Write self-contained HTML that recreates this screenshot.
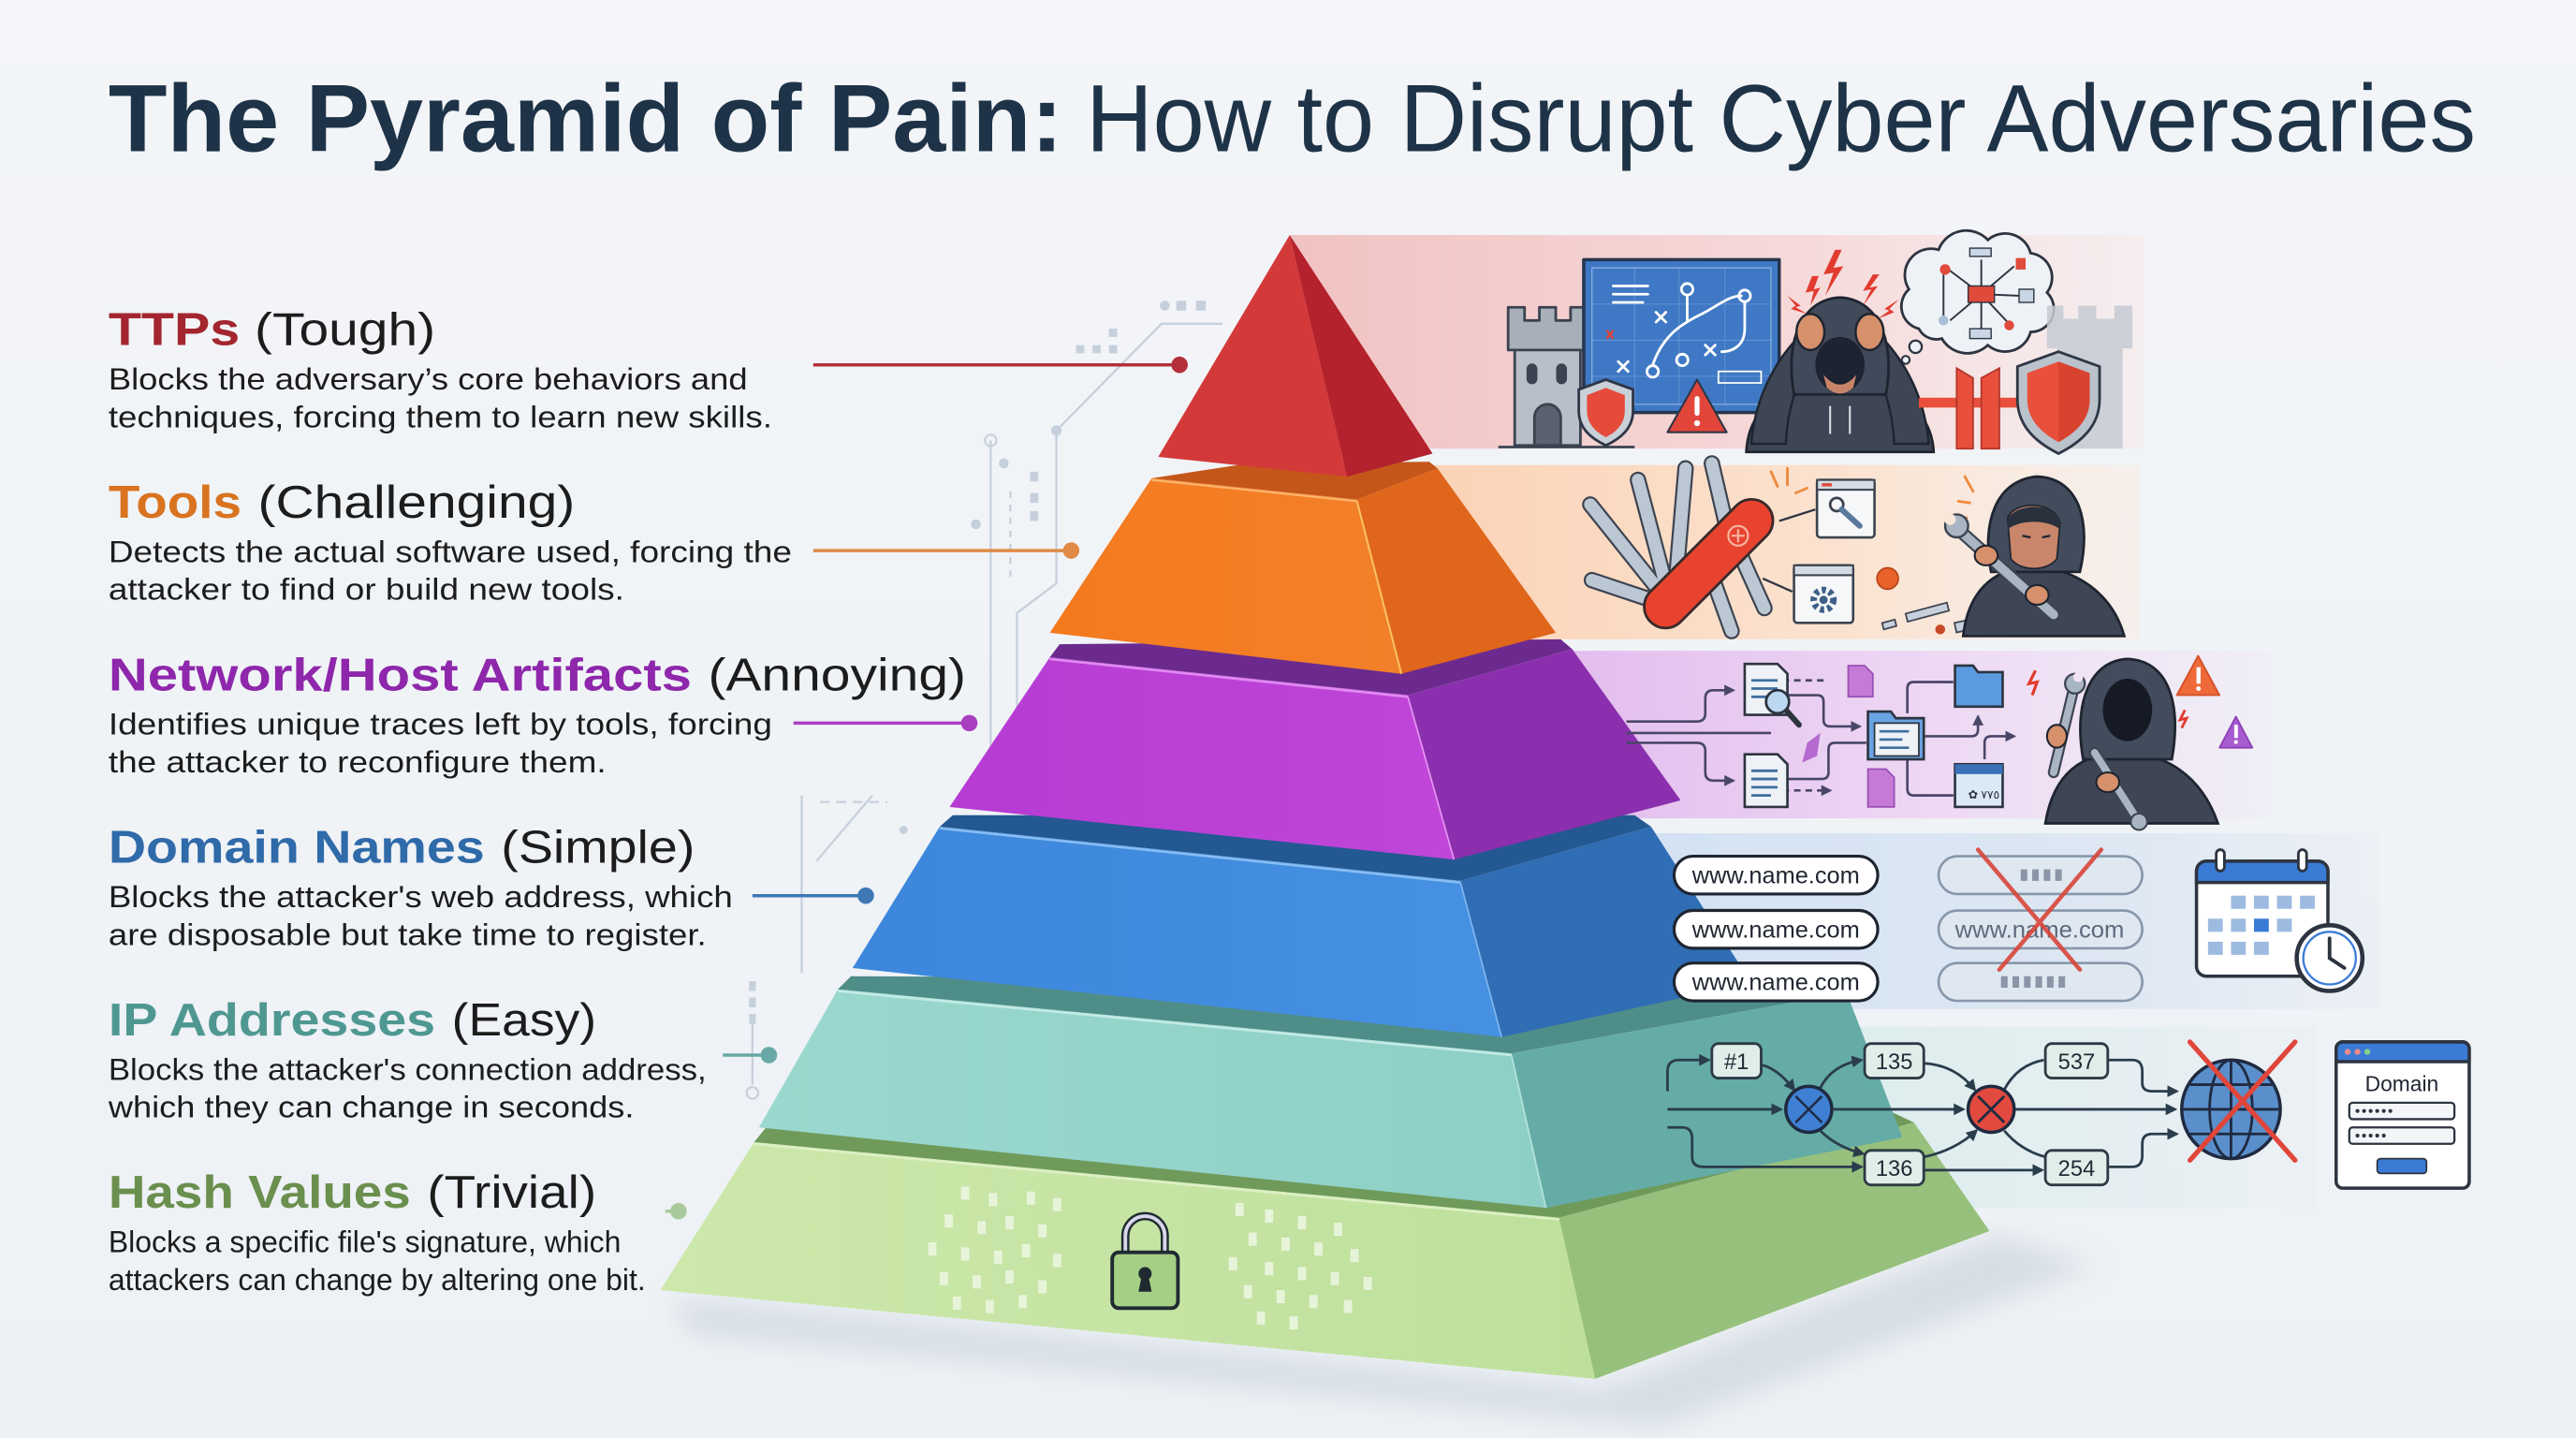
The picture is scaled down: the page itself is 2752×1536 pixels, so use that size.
<!DOCTYPE html>
<html><head><meta charset="utf-8"><title>The Pyramid of Pain</title>
<style>
html,body{margin:0;padding:0;background:#f2f4f7;}
svg{display:block;}
text{font-family:"Liberation Sans",Arial,sans-serif;}
</style></head>
<body>
<svg xmlns="http://www.w3.org/2000/svg" width="2752" height="1536" viewBox="0 0 1568 875" preserveAspectRatio="none">
<defs>
<linearGradient id="bg" x1="0" y1="0" x2="0" y2="1"><stop offset="0" stop-color="#f3f5f8"/><stop offset="1" stop-color="#edf1f5"/></linearGradient>
<linearGradient id="pRed" x1="0" y1="0" x2="1" y2="0"><stop offset="0" stop-color="#f1c2c2"/><stop offset="0.6" stop-color="#f6d9d9"/><stop offset="1" stop-color="#f8e6e6" stop-opacity="0.5"/></linearGradient>
<linearGradient id="pOr" x1="0" y1="0" x2="1" y2="0"><stop offset="0" stop-color="#fbd3b6"/><stop offset="0.6" stop-color="#fbe3d1"/><stop offset="1" stop-color="#fbebe0" stop-opacity="0.5"/></linearGradient>
<linearGradient id="pPu" x1="0" y1="0" x2="1" y2="0"><stop offset="0" stop-color="#e3bdee"/><stop offset="0.55" stop-color="#eed9f4"/><stop offset="1" stop-color="#f1e6f5" stop-opacity="0.4"/></linearGradient>
<linearGradient id="pBl" x1="0" y1="0" x2="1" y2="0"><stop offset="0" stop-color="#d3e2f3"/><stop offset="0.7" stop-color="#dfe8f3"/><stop offset="1" stop-color="#e7edf4" stop-opacity="0.5"/></linearGradient>
<linearGradient id="pIp" x1="0" y1="0" x2="1" y2="0"><stop offset="0" stop-color="#d8ecea"/><stop offset="0.7" stop-color="#e4eef1"/><stop offset="1" stop-color="#e9eff3" stop-opacity="0.5"/></linearGradient>
<linearGradient id="gGreen" x1="0" y1="0" x2="1" y2="0"><stop offset="0" stop-color="#cce8ab"/><stop offset="1" stop-color="#bfe09c"/></linearGradient>
<linearGradient id="gTeal" x1="0" y1="0" x2="1" y2="0"><stop offset="0" stop-color="#9bd8cf"/><stop offset="1" stop-color="#8dcfc6"/></linearGradient>
<linearGradient id="gBlue" x1="0" y1="0" x2="1" y2="0"><stop offset="0" stop-color="#3c86dc"/><stop offset="1" stop-color="#4691e2"/></linearGradient>
<linearGradient id="gPur" x1="0" y1="0" x2="1" y2="0"><stop offset="0" stop-color="#b53bd3"/><stop offset="1" stop-color="#c046d9"/></linearGradient>
<linearGradient id="gOr" x1="0" y1="0" x2="1" y2="0"><stop offset="0" stop-color="#f57a1e"/><stop offset="1" stop-color="#f2802a"/></linearGradient>
<filter id="blur" x="-20%" y="-50%" width="140%" height="200%"><feGaussianBlur stdDeviation="8"/></filter>
<marker id="ah" viewBox="0 0 10 10" refX="8" refY="5" markerWidth="4.5" markerHeight="4.5" orient="auto"><path d="M0 0 L10 5 L0 10 Z" fill="#2a3d4c"/></marker>
<marker id="ahp" viewBox="0 0 10 10" refX="8" refY="5" markerWidth="4.5" markerHeight="4.5" orient="auto"><path d="M0 0 L10 5 L0 10 Z" fill="#4a4668"/></marker>
</defs>

<rect x="0" y="0" width="1568" height="875" fill="url(#bg)"/>

<!-- Title -->
<text x="66" y="92" font-size="58" font-weight="700" fill="#1e3347" textLength="581" lengthAdjust="spacingAndGlyphs">The Pyramid of Pain:</text>
<text x="661" y="92" font-size="58" font-weight="400" fill="#1e3347" textLength="846" lengthAdjust="spacingAndGlyphs">How to Disrupt Cyber Adversaries</text>

<!-- faint circuit decorations -->
<g stroke="#c6d0dc" stroke-width="1.3" fill="none">
<path d="M744 197 H707 L643 262 V355 L619 373 V462 L600 482"/>
<path d="M603 268 V487"/>
<path d="M615 299 V355" stroke-dasharray="4 4"/>
<path d="M488 484 V592"/>
<path d="M497 524 L531 484"/>
<path d="M499 488 H540" stroke-dasharray="6 4"/>
<path d="M458 621 V660"/>
<path d="M863 174 V205 H826"/>
<path d="M910 170 L880 207 H840"/>
<path d="M907 218 H884 L870 230 V240 H893"/>
</g>
<g fill="#c6d0dc">
<circle cx="643" cy="262" r="3.2"/>
<circle cx="709" cy="186" r="3"/><rect x="716" y="183" width="6" height="6"/><rect x="728" y="183" width="6" height="6"/>
<rect x="655" y="210" width="5" height="5"/><rect x="665" y="210" width="5" height="5"/><rect x="675" y="210" width="5" height="5"/><rect x="675" y="200" width="5" height="5"/>
<circle cx="611" cy="282" r="3"/><circle cx="594" cy="319" r="3"/>
<rect x="627" y="287" width="5" height="6"/><rect x="627" y="300" width="5" height="6"/><rect x="627" y="311" width="5" height="6"/>
<circle cx="550" cy="505" r="2.5"/>
<rect x="456" y="597" width="4" height="6"/><rect x="456" y="607" width="4" height="6"/><rect x="456" y="617" width="4" height="6"/>
<circle cx="863" cy="174" r="3"/><circle cx="910" cy="170" r="3"/><circle cx="907" cy="218" r="3"/><circle cx="893" cy="240" r="3"/>
</g>
<circle cx="603" cy="268" r="3.5" fill="none" stroke="#c6d0dc" stroke-width="1.2"/>
<circle cx="458" cy="665" r="3.5" fill="none" stroke="#c6d0dc" stroke-width="1.2"/>

<!-- Labels -->
<g fill="#1c1c1c">
<text x="66" y="210" font-size="28" font-weight="700" fill="#a3262f" textLength="80" lengthAdjust="spacingAndGlyphs">TTPs</text>
<text x="155" y="210" font-size="28" textLength="110" lengthAdjust="spacingAndGlyphs">(Tough)</text>
<text x="66" y="237" font-size="18.5" textLength="389" lengthAdjust="spacingAndGlyphs">Blocks the adversary’s core behaviors and</text>
<text x="66" y="260" font-size="18.5" textLength="404" lengthAdjust="spacingAndGlyphs">techniques, forcing them to learn new skills.</text>

<text x="66" y="315" font-size="28" font-weight="700" fill="#d9731f" textLength="81" lengthAdjust="spacingAndGlyphs">Tools</text>
<text x="157" y="315" font-size="28" textLength="193" lengthAdjust="spacingAndGlyphs">(Challenging)</text>
<text x="66" y="342" font-size="18.5" textLength="416" lengthAdjust="spacingAndGlyphs">Detects the actual software used, forcing the</text>
<text x="66" y="365" font-size="18.5" textLength="314" lengthAdjust="spacingAndGlyphs">attacker to find or build new tools.</text>

<text x="66" y="420" font-size="28" font-weight="700" fill="#8e27ab" textLength="355" lengthAdjust="spacingAndGlyphs">Network/Host Artifacts</text>
<text x="431" y="420" font-size="28" textLength="157" lengthAdjust="spacingAndGlyphs">(Annoying)</text>
<text x="66" y="447" font-size="18.5" textLength="404" lengthAdjust="spacingAndGlyphs">Identifies unique traces left by tools, forcing</text>
<text x="66" y="470" font-size="18.5" textLength="303" lengthAdjust="spacingAndGlyphs">the attacker to reconfigure them.</text>

<text x="66" y="525" font-size="28" font-weight="700" fill="#2f6aa9" textLength="229" lengthAdjust="spacingAndGlyphs">Domain Names</text>
<text x="305" y="525" font-size="28" textLength="118" lengthAdjust="spacingAndGlyphs">(Simple)</text>
<text x="66" y="552" font-size="18.5" textLength="380" lengthAdjust="spacingAndGlyphs">Blocks the attacker's web address, which</text>
<text x="66" y="575" font-size="18.5" textLength="364" lengthAdjust="spacingAndGlyphs">are disposable but take time to register.</text>

<text x="66" y="630" font-size="28" font-weight="700" fill="#4f9892" textLength="199" lengthAdjust="spacingAndGlyphs">IP Addresses</text>
<text x="275" y="630" font-size="28" textLength="88" lengthAdjust="spacingAndGlyphs">(Easy)</text>
<text x="66" y="657" font-size="18.5" textLength="364" lengthAdjust="spacingAndGlyphs">Blocks the attacker's connection address,</text>
<text x="66" y="680" font-size="18.5" textLength="320" lengthAdjust="spacingAndGlyphs">which they can change in seconds.</text>

<text x="66" y="735" font-size="28" font-weight="700" fill="#6b8f4e" textLength="184" lengthAdjust="spacingAndGlyphs">Hash Values</text>
<text x="260" y="735" font-size="28" textLength="103" lengthAdjust="spacingAndGlyphs">(Trivial)</text>
<text x="66" y="762" font-size="18.5" textLength="312" lengthAdjust="spacingAndGlyphs">Blocks a specific file's signature, which</text>
<text x="66" y="785" font-size="18.5" textLength="327" lengthAdjust="spacingAndGlyphs">attackers can change by altering one bit.</text>
</g>

<!-- connectors -->
<g stroke-width="2">
<line x1="495" y1="222" x2="716" y2="222" stroke="#b3303a"/><circle cx="718" cy="222" r="5" fill="#b3303a"/>
<line x1="495" y1="335" x2="650" y2="335" stroke="#e08a45"/><circle cx="652" cy="335" r="5" fill="#e08a45"/>
<line x1="483" y1="440" x2="588" y2="440" stroke="#a940c0"/><circle cx="590" cy="440" r="5" fill="#a940c0"/>
<line x1="458" y1="545" x2="525" y2="545" stroke="#3d78b5"/><circle cx="527" cy="545" r="5" fill="#3d78b5"/>
<line x1="440" y1="642" x2="466" y2="642" stroke="#69a8a6"/><circle cx="468" cy="642" r="5" fill="#69a8a6"/>
<line x1="405" y1="737" x2="411" y2="737" stroke="#a9c99a"/><circle cx="413" cy="737" r="5" fill="#a9c99a"/>
</g>

<!-- Right panels (behind pyramid) -->
<rect x="785" y="143" width="520" height="130" fill="url(#pRed)"/>
<rect x="870" y="283" width="432" height="106" fill="url(#pOr)"/>
<rect x="950" y="396" width="432" height="102" fill="url(#pPu)"/>
<rect x="1000" y="507" width="448" height="107" fill="url(#pBl)"/>
<rect x="1000" y="625" width="410" height="110" fill="url(#pIp)"/>

<!-- pyramid shadow -->
<polygon points="410,790 975,845 1215,752 1275,770 1010,868 420,812" fill="#cdd5df" opacity="0.7" filter="url(#blur)"/>

<!-- Green tier -->
<polygon points="459,695 468,684 1150,676 1165,683 949,741" fill="#6f9a5a"/>
<polygon points="459,695 949,741 971,839 402,785" fill="url(#gGreen)"/>
<polygon points="949,741 1165,683 1211,749 971,839" fill="#97c07c"/>
<line x1="459" y1="696" x2="949" y2="742" stroke="#dcf0c4" stroke-width="1.5"/>
<!-- Teal tier -->
<polygon points="510,602 518,594 1110,597 1124,604 920,641" fill="#4f8d88"/>
<polygon points="510,602 920,641 941,735 462,686" fill="url(#gTeal)"/>
<polygon points="920,641 1124,604 1158,692 941,735" fill="#64aca5"/>
<line x1="510" y1="603" x2="920" y2="642" stroke="#c2ebe4" stroke-width="1.5"/>
<line x1="920" y1="642" x2="941" y2="735" stroke="#b4e3dc" stroke-width="1"/>
<!-- Blue tier -->
<polygon points="572,503 580,496 995,496 1005,503 889,536" fill="#245892"/>
<polygon points="572,503 889,536 914,631 519,589" fill="url(#gBlue)"/>
<polygon points="889,536 1005,503 1066,598 914,631" fill="#2f6db5"/>
<line x1="572" y1="504" x2="889" y2="537" stroke="#86bdf2" stroke-width="1.5"/>
<line x1="889" y1="537" x2="914" y2="631" stroke="#7fb5ec" stroke-width="1"/>
<!-- Purple tier -->
<polygon points="639,400 645,392 950,389 957,395 857,423" fill="#6c2a8e"/>
<polygon points="639,400 857,423 885,523 578,491" fill="url(#gPur)"/>
<polygon points="857,423 957,395 1023,487 885,523" fill="#8b2fae"/>
<line x1="639" y1="401" x2="857" y2="424" stroke="#e08af2" stroke-width="1.5"/>
<line x1="857" y1="424" x2="885" y2="523" stroke="#e493f2" stroke-width="1"/>
<!-- Orange tier -->
<polygon points="701,291 760,282 870,281 875,285 826,304" fill="#c4561a"/>
<polygon points="701,291 826,304 853,410 639,385" fill="url(#gOr)"/>
<polygon points="826,304 875,285 947,385 853,410" fill="#e0661b"/>
<line x1="701" y1="292" x2="826" y2="305" stroke="#fbb46a" stroke-width="1.3"/>
<line x1="826" y1="305" x2="853" y2="410" stroke="#f9c060" stroke-width="1.2"/>
<!-- Red tier -->
<polygon points="785,143 705,278 820,290" fill="#d4393a"/>
<polygon points="785,143 820,290 872,276" fill="#b3222d"/>

<!-- Hash tier decorations -->
<g fill="#eef7e4" opacity="0.85">
<rect x="585" y="722" width="5" height="8"/><rect x="602" y="726" width="5" height="8"/><rect x="625" y="725" width="5" height="8"/><rect x="641" y="729" width="5" height="8"/>
<rect x="575" y="739" width="5" height="8"/><rect x="595" y="743" width="5" height="8"/><rect x="612" y="740" width="5" height="8"/><rect x="632" y="745" width="5" height="8"/>
<rect x="565" y="756" width="5" height="8"/><rect x="585" y="759" width="5" height="8"/><rect x="605" y="761" width="5" height="8"/><rect x="622" y="757" width="5" height="8"/><rect x="641" y="763" width="5" height="8"/>
<rect x="572" y="774" width="5" height="8"/><rect x="592" y="776" width="5" height="8"/><rect x="612" y="773" width="5" height="8"/><rect x="632" y="779" width="5" height="8"/>
<rect x="580" y="789" width="5" height="8"/><rect x="600" y="791" width="5" height="8"/><rect x="620" y="788" width="5" height="8"/>
<rect x="752" y="732" width="5" height="8"/><rect x="770" y="736" width="5" height="8"/><rect x="790" y="740" width="5" height="8"/><rect x="812" y="744" width="5" height="8"/>
<rect x="760" y="750" width="5" height="8"/><rect x="780" y="753" width="5" height="8"/><rect x="800" y="756" width="5" height="8"/><rect x="822" y="760" width="5" height="8"/>
<rect x="748" y="765" width="5" height="8"/><rect x="770" y="768" width="5" height="8"/><rect x="790" y="771" width="5" height="8"/><rect x="810" y="774" width="5" height="8"/><rect x="830" y="777" width="5" height="8"/>
<rect x="757" y="782" width="5" height="8"/><rect x="777" y="785" width="5" height="8"/><rect x="797" y="788" width="5" height="8"/><rect x="818" y="791" width="5" height="8"/>
<rect x="765" y="798" width="5" height="8"/><rect x="785" y="801" width="5" height="8"/>
</g>
<!-- padlock -->
<path d="M685 764 V752 a12 12 0 0 1 24 0 V764" fill="none" stroke="#1f2a30" stroke-width="5"/>
<path d="M685 764 V752 a12 12 0 0 1 24 0 V764" fill="none" stroke="#d8d6ea" stroke-width="2.2"/>
<rect x="677" y="762" width="40" height="34" rx="4" fill="#a6cf86" stroke="#1f2a30" stroke-width="2.2"/>
<circle cx="697" cy="775" r="4" fill="#1f2a30"/><path d="M695 776 L693 786 H701 L699 776 Z" fill="#1f2a30"/>

<!-- ===== TTP icons ===== -->
<g stroke="#3b4250" stroke-width="1.6" stroke-linejoin="round">
<path d="M918 213 V187 H928 V195 H937 V187 H947 V195 H956 V187 H966 V213 Z" fill="#a7afb9"/>
<rect x="922" y="213" width="40" height="58" fill="#b8bfc8"/>
<rect x="930" y="222" width="5" height="11" rx="2.5" fill="#3b4250"/>
<rect x="948" y="222" width="5" height="11" rx="2.5" fill="#3b4250"/>
<path d="M934 271 V254 a8 8 0 0 1 16 0 V271 Z" fill="#5a6270"/>
<line x1="912" y1="272" x2="995" y2="272"/>
<rect x="964" y="158" width="119" height="93" fill="#3f78c4" stroke="#26364f" stroke-width="2"/>
<rect x="969" y="163" width="109" height="83" fill="none" stroke="#9ec0ea" stroke-width="0.8" opacity="0.7"/>
</g>
<g stroke="#8fb2e2" stroke-width="0.5" opacity="0.5">
<line x1="969" y1="185" x2="1078" y2="185"/><line x1="969" y1="207" x2="1078" y2="207"/><line x1="969" y1="229" x2="1078" y2="229"/>
<line x1="995" y1="163" x2="995" y2="246"/><line x1="1022" y1="163" x2="1022" y2="246"/><line x1="1050" y1="163" x2="1050" y2="246"/>
</g>
<g stroke="#ffffff" stroke-width="1.6" fill="none" stroke-linecap="round">
<line x1="982" y1="174" x2="1003" y2="174"/><line x1="982" y1="179" x2="1003" y2="179"/><line x1="982" y1="184" x2="1000" y2="184"/>
<circle cx="1027" cy="176" r="3.5"/><circle cx="1062" cy="180" r="3.5"/><circle cx="1024" cy="219" r="3.5"/><circle cx="1006" cy="226" r="3.5"/>
<path d="M1008 190 l6 6 M1014 190 l-6 6"/><path d="M1038 210 l6 6 M1044 210 l-6 6"/><path d="M985 220 l6 6 M991 220 l-6 6"/>
<path d="M1006 222 C1012 205 1022 198 1034 192 C1046 186 1052 180 1060 180"/>
<path d="M1027 180 V195"/><path d="M1062 184 V200 C1062 210 1055 214 1048 214"/>
<rect x="1046" y="226" width="26" height="7" stroke-width="1"/>
</g>
<path d="M978 201 l4 5 M982 201 l-4 5" stroke="#e2453a" stroke-width="1.4"/>
<path d="M977.5 231 L994 237 V250 C994 261 986 267 977.5 271 C969 267 961 261 961 250 V237 Z" fill="#c9d0d8" stroke="#2f3645" stroke-width="1.6"/>
<path d="M977.5 236 L989 240.5 V250 C989 258 983.5 263 977.5 266 C971.5 263 966 258 966 250 V240.5 Z" fill="#e64a3a"/>
<path d="M1033 231 L1051 263 H1015 Z" fill="#e2453a" stroke="#2f3645" stroke-width="1.2" stroke-linejoin="round"/>
<rect x="1031.5" y="241" width="3" height="12" rx="1.5" fill="#fff"/><circle cx="1033" cy="257.5" r="1.8" fill="#fff"/>
<!-- hacker holding head -->
<path d="M1063 275 C1064 255 1075 243 1092 238 L1146 238 C1163 243 1176 255 1177 275 Z" fill="#3e4656" stroke="#1f2530" stroke-width="1.6"/>
<path d="M1066 270 C1068 245 1078 224 1092 208 L1105 214 C1094 230 1088 248 1087 270 Z" fill="#3e4656" stroke="#1f2530" stroke-width="1.4"/>
<path d="M1174 270 C1172 245 1162 224 1148 208 L1135 214 C1146 230 1152 248 1153 270 Z" fill="#3e4656" stroke="#1f2530" stroke-width="1.4"/>
<path d="M1092 240 C1086 205 1098 182 1120 181 C1142 182 1154 205 1148 240 Z" fill="#414a5a" stroke="#1f2530" stroke-width="1.6"/>
<ellipse cx="1120" cy="222" rx="15" ry="17" fill="#1d2330"/>
<path d="M1110 228 Q1120 240 1130 228 L1128 236 Q1120 243 1112 236 Z" fill="#c88468"/>
<ellipse cx="1102" cy="202" rx="8.5" ry="11" fill="#d6906b" stroke="#1f2530" stroke-width="1.4"/>
<ellipse cx="1138" cy="202" rx="8.5" ry="11" fill="#d6906b" stroke="#1f2530" stroke-width="1.4"/>
<line x1="1114" y1="247" x2="1114" y2="264" stroke="#d8dce2" stroke-width="1.2"/><line x1="1126" y1="247" x2="1126" y2="264" stroke="#d8dce2" stroke-width="1.2"/>
<g fill="#e23b2f">
<path d="M1117 152 L1110 167 L1116 166 L1111 180 L1122 162 L1116 163 L1121 152 Z"/>
<path d="M1103 168 L1099 178 L1104 177 L1102 186 L1108 175 L1104 176 L1107 168 Z"/>
<path d="M1140 167 L1134 177 L1139 176 L1134 186 L1143 174 L1138 175 L1144 167 Z"/>
<path d="M1088 180 L1096 186 L1093 187 L1100 191 L1090 188 L1093 186 Z"/>
<path d="M1156 182 L1147 188 L1150 189 L1143 194 L1153 190 L1150 188 Z"/>
</g>
<path d="M1168 200 a14 14 0 0 1 -6 -24 a16 16 0 0 1 18 -24 a18 18 0 0 1 30 -6 a16 16 0 0 1 26 8 a15 15 0 0 1 10 24 a14 14 0 0 1 -10 24 a16 16 0 0 1 -26 8 a18 18 0 0 1 -28 -4 a12 12 0 0 1 -14 -6 Z" fill="#eef2f7" stroke="#2d3440" stroke-width="1.6"/>
<circle cx="1166" cy="211" r="3.8" fill="#eef2f7" stroke="#2d3440" stroke-width="1.3"/>
<circle cx="1160" cy="219" r="2.4" fill="#eef2f7" stroke="#2d3440" stroke-width="1.2"/>
<g stroke="#2d3440" stroke-width="1.1">
<line x1="1206" y1="179" x2="1206" y2="158"/><line x1="1206" y1="179" x2="1186" y2="164"/><line x1="1206" y1="179" x2="1226" y2="162"/>
<line x1="1206" y1="179" x2="1230" y2="180"/><line x1="1206" y1="179" x2="1222" y2="196"/><line x1="1206" y1="179" x2="1206" y2="200"/><line x1="1206" y1="179" x2="1187" y2="195"/>
<line x1="1183" y1="167" x2="1183" y2="192"/>
</g>
<rect x="1198" y="174" width="16" height="10" fill="#e04a3a" stroke="#2d3440" stroke-width="0.8"/>
<circle cx="1184" cy="164" r="3.2" fill="#e04a3a"/>
<rect x="1199" y="151" width="13" height="5" fill="#c9d6e6" stroke="#2d3440" stroke-width="0.8"/>
<rect x="1227" y="157" width="6" height="7" fill="#e04a3a"/>
<rect x="1229" y="176" width="9" height="8" fill="#c9d6e6" stroke="#2d3440" stroke-width="0.8"/>
<circle cx="1223" cy="198" r="3" fill="#e04a3a"/>
<rect x="1199" y="200" width="13" height="6" fill="#c9d6e6" stroke="#2d3440" stroke-width="0.8"/>
<circle cx="1183" cy="195" r="3" fill="#a8bfd8"/>
<rect x="1168" y="242" width="64" height="6" fill="#e8503c"/>
<path d="M1191 224 L1201 230 V273 H1191 Z" fill="#e8503c" stroke="#b2352a" stroke-width="1"/>
<path d="M1206 230 L1217 224 V273 H1206 Z" fill="#e8503c" stroke="#b2352a" stroke-width="1"/>
<g fill="#c5cbd3" opacity="0.85">
<path d="M1246 212 V186 H1256 V194 H1265 V186 H1276 V194 H1287 V186 H1298 V212 Z"/>
<rect x="1252" y="212" width="40" height="61"/>
</g>
<path d="M1253 214 L1278 223 V243 C1278 259 1267 269 1253 276 C1239 269 1228 259 1228 243 V223 Z" fill="#bac2cc" stroke="#2f3645" stroke-width="1.6"/>
<path d="M1253 220 L1272 227 V243 C1272 255 1264 263 1253 269 C1242 263 1234 255 1234 243 V227 Z" fill="#e8503c"/>
<path d="M1253 220 L1272 227 V243 C1272 255 1264 263 1253 269 Z" fill="#d8432f"/>

<!-- ===== Tools icons ===== -->
<g stroke-linecap="round">
<g stroke="#3d4450" stroke-width="10">
<line x1="1012" y1="362" x2="968" y2="307"/><line x1="1015" y1="360" x2="997" y2="292"/><line x1="1020" y1="355" x2="1026" y2="285"/>
<line x1="1052" y1="325" x2="1042" y2="282"/><line x1="1008" y1="366" x2="969" y2="353"/><line x1="1056" y1="330" x2="1074" y2="370"/><line x1="1040" y1="345" x2="1054" y2="384"/>
</g>
<g stroke="#bcc7d4" stroke-width="7.5">
<line x1="1012" y1="362" x2="968" y2="307"/><line x1="1015" y1="360" x2="997" y2="292"/><line x1="1020" y1="355" x2="1026" y2="285"/>
<line x1="1052" y1="325" x2="1042" y2="282"/><line x1="1008" y1="366" x2="969" y2="353"/><line x1="1056" y1="330" x2="1074" y2="370"/><line x1="1040" y1="345" x2="1054" y2="384"/>
</g>
</g>
<rect x="990" y="330" width="100" height="26" rx="13" transform="rotate(-45 1040 343)" fill="#e8432f" stroke="#3a2a2a" stroke-width="1.6"/>
<circle cx="1058" cy="326" r="6" fill="none" stroke="#f7b19e" stroke-width="1.3"/>
<path d="M1058 322 V330 M1054 326 H1062" stroke="#f7b19e" stroke-width="1.3"/>
<g stroke="#2f3645" stroke-width="1.3">
<line x1="1083" y1="317" x2="1105" y2="310"/><line x1="1073" y1="352" x2="1091" y2="360"/>
</g>
<rect x="1106" y="292" width="35" height="35" rx="2" fill="#f6f7f9" stroke="#3d4450" stroke-width="1.5"/>
<rect x="1106" y="292" width="35" height="6" fill="#d5dce6" stroke="#3d4450" stroke-width="1.2"/>
<rect x="1109" y="294" width="6" height="2" fill="#e04a3a"/>
<circle cx="1118" cy="307" r="4" fill="none" stroke="#3d4450" stroke-width="1.6"/>
<line x1="1121" y1="310" x2="1132" y2="320" stroke="#5a7a9c" stroke-width="3.5" stroke-linecap="round"/>
<rect x="1092" y="344" width="36" height="35" rx="2" fill="#f6f7f9" stroke="#3d4450" stroke-width="1.5"/>
<rect x="1092" y="344" width="36" height="6" fill="#d5dce6" stroke="#3d4450" stroke-width="1.2"/>
<circle cx="1110" cy="365" r="6" fill="none" stroke="#3d5f88" stroke-width="4" stroke-dasharray="2.5 2"/>
<circle cx="1110" cy="365" r="2.5" fill="#3d5f88"/>
<circle cx="1149" cy="352" r="6.5" fill="#e8622a" stroke="#b8461c" stroke-width="1"/>
<g stroke="#3d4450" stroke-width="1" fill="#c7d1dd">
<rect x="1146" y="378" width="8" height="4" transform="rotate(-15 1150 380)"/>
<rect x="1160" y="370" width="26" height="5" transform="rotate(-15 1173 372)"/>
<rect x="1190" y="376" width="28" height="6" transform="rotate(-12 1204 379)"/>
</g>
<circle cx="1181" cy="383" r="3" fill="#c84a2a"/>
<g stroke="#ee8a3c" stroke-width="1.6" stroke-linecap="round">
<line x1="1078" y1="287" x2="1082" y2="296"/><line x1="1088" y1="285" x2="1088" y2="295"/><line x1="1093" y1="300" x2="1100" y2="297"/>
<line x1="1196" y1="290" x2="1201" y2="299"/><line x1="1192" y1="305" x2="1199" y2="306"/><line x1="1190" y1="316" x2="1197" y2="315"/>
</g>
<path d="M1195 387 C1198 360 1213 346 1236 345 C1264 345 1286 362 1293 387 Z" fill="#3e4656" stroke="#1f2530" stroke-width="1.6"/>
<path d="M1212 348 C1206 318 1215 292 1240 290 C1266 291 1273 318 1266 348 Z" fill="#434c5c" stroke="#1f2530" stroke-width="1.6"/>
<path d="M1222 315 C1226 305 1250 304 1254 318 L1252 340 C1246 348 1230 348 1224 340 Z" fill="#c9866a" stroke="#1f2530" stroke-width="1"/>
<path d="M1222 315 C1230 306 1248 306 1254 316 L1254 322 C1246 316 1230 316 1222 322 Z" fill="#2a303c"/>
<line x1="1231" y1="326" x2="1236" y2="327" stroke="#1f2530" stroke-width="1.3"/><line x1="1243" y1="327" x2="1248" y2="326" stroke="#1f2530" stroke-width="1.3"/>
<line x1="1193" y1="323" x2="1250" y2="374" stroke="#3d4450" stroke-width="8" stroke-linecap="round"/>
<line x1="1193" y1="323" x2="1250" y2="374" stroke="#a9b5c3" stroke-width="5.5" stroke-linecap="round"/>
<circle cx="1191" cy="320" r="7" fill="#a9b5c3" stroke="#3d4450" stroke-width="1.4"/>
<circle cx="1187" cy="316" r="3.5" fill="#f8e6d8"/>
<ellipse cx="1209" cy="338" rx="7" ry="6" fill="#d6906b" stroke="#1f2530" stroke-width="1.2"/>
<ellipse cx="1240" cy="362" rx="7" ry="6" fill="#d6906b" stroke="#1f2530" stroke-width="1.2"/>

<!-- ===== Network/Host icons ===== -->
<g stroke="#4a4668" stroke-width="1.5" fill="none">
<path d="M990 439 H1033 Q1038 439 1038 434 V425 Q1038 420 1043 420 H1055" marker-end="url(#ahp)"/>
<path d="M990 446 H1078"/>
<path d="M990 452 H1033 Q1038 452 1038 457 V470 Q1038 475 1043 475 H1055" marker-end="url(#ahp)"/>
<path d="M1088 423 H1106 Q1110 423 1110 427 V438 Q1110 442 1114 442 H1132" marker-end="url(#ahp)"/>
<path d="M1088 474 H1109 Q1113 474 1113 470 V456 Q1113 452 1117 452 H1136"/>
<path d="M1171 448 H1200 Q1204 448 1204 444 V436" marker-end="url(#ahp)"/>
<path d="M1161 434 V419 Q1161 415 1165 415 H1189"/>
<path d="M1161 462 V480 Q1161 484 1165 484 H1189"/>
<path d="M1208 462 V452 Q1208 448 1212 448 H1226" marker-end="url(#ahp)"/>
<path d="M1078 414 H1110" stroke-dasharray="4 3"/>
<path d="M1078 481 H1114" stroke-dasharray="4 3" marker-end="url(#ahp)"/>
</g>
<path d="M1062 404 H1082 L1088 410 V435 H1062 Z" fill="#eef2f7" stroke="#2d3440" stroke-width="1.5"/>
<g stroke="#3f6fa0" stroke-width="1.6"><line x1="1066" y1="414" x2="1082" y2="414"/><line x1="1066" y1="419" x2="1082" y2="419"/><line x1="1066" y1="424" x2="1076" y2="424"/></g>
<line x1="1087" y1="432" x2="1095" y2="441" stroke="#2d3440" stroke-width="3.5" stroke-linecap="round"/>
<circle cx="1082" cy="427" r="7" fill="#bcd8f0" stroke="#2d3440" stroke-width="1.6"/>
<path d="M1125 405 H1135 L1140 410 V424 H1125 Z" fill="#c57ad8" stroke="#9a4fb5" stroke-width="1"/>
<path d="M1190 409 V430 H1219 V409 H1204 L1201 405 H1190 Z" fill="#5a9be0" stroke="#2d3440" stroke-width="1.5"/>
<path d="M1137 437 V462 H1171 V437 H1154 L1151 433 H1137 Z" fill="#6aa3e2" stroke="#2d3440" stroke-width="1.5"/>
<rect x="1141" y="440" width="27" height="20" fill="#eef2f7" stroke="#2d3440" stroke-width="1"/>
<g stroke="#3f6fa0" stroke-width="1.5"><line x1="1144" y1="445" x2="1162" y2="445"/><line x1="1144" y1="450" x2="1158" y2="450"/><line x1="1144" y1="455" x2="1162" y2="455"/></g>
<path d="M1062 459 H1082 L1088 465 V491 H1062 Z" fill="#eef2f7" stroke="#2d3440" stroke-width="1.5"/>
<g stroke="#3f6fa0" stroke-width="1.6"><line x1="1066" y1="469" x2="1082" y2="469"/><line x1="1066" y1="474" x2="1082" y2="474"/><line x1="1066" y1="479" x2="1082" y2="479"/><line x1="1066" y1="484" x2="1078" y2="484"/></g>
<path d="M1100 452 L1108 446 L1106 460 L1097 464 Z" fill="#b46ad0"/>
<path d="M1137 468 H1148 L1153 473 V491 H1137 Z" fill="#c57ad8" stroke="#9a4fb5" stroke-width="1"/>
<rect x="1190" y="465" width="29" height="26" fill="#dbe8f5" stroke="#2d3440" stroke-width="1.5"/>
<rect x="1190" y="465" width="29" height="6" fill="#3a70b5"/>
<text x="1198" y="486" font-size="7" fill="#2d3440">✿ ٧٧٥</text>
<path d="M1245 501 C1250 470 1268 458 1292 458 C1318 458 1340 472 1350 501 Z" fill="#3e4656" stroke="#1f2530" stroke-width="1.6"/>
<path d="M1268 462 C1262 428 1272 402 1295 401 C1320 402 1328 428 1322 462 Z" fill="#434c5c" stroke="#1f2530" stroke-width="1.6"/>
<ellipse cx="1295" cy="432" rx="15" ry="19" fill="#151a25"/>
<line x1="1250" y1="470" x2="1262" y2="420" stroke="#3d4450" stroke-width="7" stroke-linecap="round"/>
<line x1="1250" y1="470" x2="1262" y2="420" stroke="#a9b5c3" stroke-width="4.5" stroke-linecap="round"/>
<circle cx="1263" cy="416" r="6" fill="#a9b5c3" stroke="#3d4450" stroke-width="1.3"/><circle cx="1265" cy="412" r="3" fill="#f2e4f6"/>
<ellipse cx="1252" cy="448" rx="6" ry="7" fill="#d6906b" stroke="#1f2530" stroke-width="1.2"/>
<line x1="1275" y1="458" x2="1300" y2="497" stroke="#3d4450" stroke-width="7" stroke-linecap="round"/>
<line x1="1275" y1="458" x2="1300" y2="497" stroke="#a9b5c3" stroke-width="4.5" stroke-linecap="round"/>
<circle cx="1302" cy="500" r="5" fill="#a9b5c3" stroke="#3d4450" stroke-width="1.2"/>
<ellipse cx="1283" cy="476" rx="7" ry="6" fill="#d6906b" stroke="#1f2530" stroke-width="1.2"/>
<path d="M1239 408 L1235 416 L1240 415 L1237 423" stroke="#e23b2f" stroke-width="1.8" fill="none"/>
<path d="M1330 432 L1327 438 L1331 437 L1328 443" stroke="#e23b2f" stroke-width="1.6" fill="none"/>
<path d="M1338 399 L1351 423 H1325 Z" fill="#ef6a3a" stroke="#d44f25" stroke-width="1" stroke-linejoin="round"/>
<rect x="1337" y="406" width="2.5" height="10" fill="#fff"/><circle cx="1338.2" cy="419" r="1.4" fill="#fff"/>
<path d="M1361 436 L1371 455 H1351 Z" fill="#a85ad0" stroke="#8a40b5" stroke-width="1" stroke-linejoin="round"/>
<rect x="1360" y="441" width="2.2" height="8" fill="#fff"/><circle cx="1361" cy="451.5" r="1.2" fill="#fff"/>

<!-- ===== Domain icons ===== -->
<g stroke="#1f2530" stroke-width="1.8" fill="#ffffff">
<rect x="1019" y="521" width="124" height="23" rx="11.5"/>
<rect x="1019" y="554" width="124" height="23" rx="11.5"/>
<rect x="1019" y="586" width="124" height="23" rx="11.5"/>
</g>
<g font-size="14" fill="#1f2530">
<text x="1030" y="537.5" textLength="102" lengthAdjust="spacingAndGlyphs">www.name.com</text>
<text x="1030" y="570.5" textLength="102" lengthAdjust="spacingAndGlyphs">www.name.com</text>
<text x="1030" y="602.5" textLength="102" lengthAdjust="spacingAndGlyphs">www.name.com</text>
</g>
<g stroke="#8797ab" stroke-width="1.5" fill="#dfe7f0">
<rect x="1180" y="521" width="124" height="23" rx="11.5"/>
<rect x="1180" y="554" width="124" height="23" rx="11.5"/>
<rect x="1180" y="586" width="124" height="23" rx="11.5"/>
</g>
<g fill="#8a96a8">
<rect x="1230" y="529" width="4" height="7"/><rect x="1237" y="529" width="4" height="7"/><rect x="1244" y="529" width="4" height="7"/><rect x="1251" y="529" width="4" height="7"/>
<rect x="1218" y="594" width="4" height="7"/><rect x="1225" y="594" width="4" height="7"/><rect x="1232" y="594" width="4" height="7"/><rect x="1239" y="594" width="4" height="7"/><rect x="1246" y="594" width="4" height="7"/><rect x="1253" y="594" width="4" height="7"/>
</g>
<text x="1190" y="570.5" font-size="14" fill="#5d6a7c" textLength="103" lengthAdjust="spacingAndGlyphs">www.name.com</text>
<g stroke="#d9463a" stroke-width="2.6" stroke-linecap="round" opacity="0.9">
<line x1="1204" y1="517" x2="1266" y2="590"/><line x1="1279" y1="517" x2="1217" y2="590"/>
</g>
<rect x="1337" y="524" width="80" height="70" rx="6" fill="#ffffff" stroke="#2d3440" stroke-width="2"/>
<path d="M1337 537 V530 a6 6 0 0 1 6 -6 H1411 a6 6 0 0 1 6 6 V537 Z" fill="#3a7bd5" stroke="#2d3440" stroke-width="2"/>
<rect x="1349" y="517" width="5" height="13" rx="2.5" fill="#fff" stroke="#2d3440" stroke-width="1.6"/>
<rect x="1399" y="517" width="5" height="13" rx="2.5" fill="#fff" stroke="#2d3440" stroke-width="1.6"/>
<g fill="#9dbbe0">
<rect x="1358" y="545" width="9" height="8"/><rect x="1372" y="545" width="9" height="8"/><rect x="1386" y="545" width="9" height="8"/><rect x="1400" y="545" width="9" height="8"/>
<rect x="1344" y="559" width="9" height="8"/><rect x="1358" y="559" width="9" height="8"/><rect x="1372" y="559" width="9" height="8" fill="#3a7bd5"/><rect x="1386" y="559" width="9" height="8"/>
<rect x="1344" y="573" width="9" height="8"/><rect x="1358" y="573" width="9" height="8"/><rect x="1372" y="573" width="9" height="8"/>
</g>
<circle cx="1418" cy="583" r="20" fill="#ffffff" stroke="#2d3440" stroke-width="2.6"/>
<circle cx="1418" cy="583" r="16" fill="none" stroke="#3a7bd5" stroke-width="1.3"/>
<path d="M1418 571 V583 L1427 589" stroke="#2d3440" stroke-width="2.2" fill="none" stroke-linecap="round"/>

<!-- ===== IP flow ===== -->
<g stroke="#2a3d4c" stroke-width="1.6" fill="none">
<path d="M1015 675 H1084" marker-end="url(#ah)"/>
<path d="M1116 675 H1195" marker-end="url(#ah)"/>
<path d="M1227 675 H1324" marker-end="url(#ah)"/>
<path d="M1015 664 V652 Q1015 645 1022 645 H1040" marker-end="url(#ah)"/>
<path d="M1072 648 Q1082 650 1092 663" marker-end="url(#ah)"/>
<path d="M1108 662 Q1115 648 1133 645" marker-end="url(#ah)"/>
<path d="M1171 647 Q1190 648 1202 663" marker-end="url(#ah)"/>
<path d="M1220 663 Q1228 648 1244 645"/>
<path d="M1283 645 H1298 Q1304 645 1304 652 V659 Q1304 664 1310 664 H1325" marker-end="url(#ah)"/>
<path d="M1015 686 H1024 Q1030 686 1030 693 V704 Q1030 710 1037 710 H1133" marker-end="url(#ah)"/>
<path d="M1108 688 Q1118 698 1134 702" marker-end="url(#ah)"/>
<path d="M1171 704 Q1190 700 1203 688" marker-end="url(#ah)"/>
<path d="M1171 712 H1243" marker-end="url(#ah)"/>
<path d="M1220 688 Q1230 700 1245 704"/>
<path d="M1283 710 H1298 Q1304 710 1304 703 V696 Q1304 690 1310 690 H1325" marker-end="url(#ah)"/>
</g>
<g stroke="#2d3a45" stroke-width="1.6" fill="#dfeee9">
<rect x="1042" y="635" width="30" height="21" rx="4"/>
<rect x="1135" y="635" width="36" height="21" rx="4"/>
<rect x="1245" y="635" width="38" height="21" rx="4"/>
<rect x="1135" y="700" width="36" height="21" rx="4"/>
<rect x="1245" y="700" width="38" height="21" rx="4"/>
</g>
<g font-size="13.5" fill="#1f2a35" text-anchor="middle">
<text x="1057" y="650.5">#1</text>
<text x="1153" y="650.5">135</text>
<text x="1264" y="650.5">537</text>
<text x="1153" y="715.5">136</text>
<text x="1264" y="715.5">254</text>
</g>
<circle cx="1101" cy="675" r="14" fill="#3f7fd4" stroke="#1f2a40" stroke-width="2"/>
<path d="M1093 667 Q1101 675 1109 683 M1109 667 Q1101 675 1093 683" stroke="#1f2a40" stroke-width="1.4" fill="none"/>
<circle cx="1212" cy="675" r="14" fill="#e24a3f" stroke="#1f2a40" stroke-width="2"/>
<path d="M1204 667 L1220 683 M1220 667 L1204 683" stroke="#1f2a40" stroke-width="1.6"/>
<circle cx="1358" cy="675" r="30" fill="#5a8fcb" stroke="#1f2a40" stroke-width="2"/>
<g stroke="#1f2a40" stroke-width="1.6" fill="none">
<ellipse cx="1358" cy="675" rx="13" ry="30"/>
<line x1="1358" y1="645" x2="1358" y2="705"/>
<line x1="1328" y1="675" x2="1388" y2="675"/>
<path d="M1333 660 H1383 M1333 690 H1383"/>
</g>
<g stroke="#e0463a" stroke-width="3" stroke-linecap="round">
<line x1="1333" y1="634" x2="1397" y2="706"/><line x1="1397" y1="634" x2="1333" y2="706"/>
</g>
<rect x="1422" y="634" width="81" height="89" rx="4" fill="#ffffff" stroke="#2d3440" stroke-width="2"/>
<path d="M1422 646 V638 a4 4 0 0 1 4 -4 H1499 a4 4 0 0 1 4 4 V646 Z" fill="#3a7bd5" stroke="#2d3440" stroke-width="2"/>
<circle cx="1429" cy="640" r="1.8" fill="#f08a8a"/><circle cx="1435" cy="640" r="1.8" fill="#f08a8a"/><circle cx="1441" cy="640" r="1.8" fill="#8ad08a"/>
<text x="1462" y="664" font-size="13" text-anchor="middle" fill="#1f2530">Domain</text>
<rect x="1430" y="671" width="64" height="10" rx="2" fill="#f3f5f8" stroke="#2d3440" stroke-width="1.3"/>
<rect x="1430" y="686" width="64" height="10" rx="2" fill="#f3f5f8" stroke="#2d3440" stroke-width="1.3"/>
<g fill="#2d3440">
<circle cx="1435" cy="676" r="1.2"/><circle cx="1439" cy="676" r="1.2"/><circle cx="1443" cy="676" r="1.2"/><circle cx="1447" cy="676" r="1.2"/><circle cx="1451" cy="676" r="1.2"/><circle cx="1455" cy="676" r="1.2"/>
<circle cx="1435" cy="691" r="1.2"/><circle cx="1439" cy="691" r="1.2"/><circle cx="1443" cy="691" r="1.2"/><circle cx="1447" cy="691" r="1.2"/><circle cx="1451" cy="691" r="1.2"/>
</g>
<rect x="1447" y="705" width="30" height="9" rx="2" fill="#3a7bd5" stroke="#2d3440" stroke-width="1"/>
</svg>
</body></html>
